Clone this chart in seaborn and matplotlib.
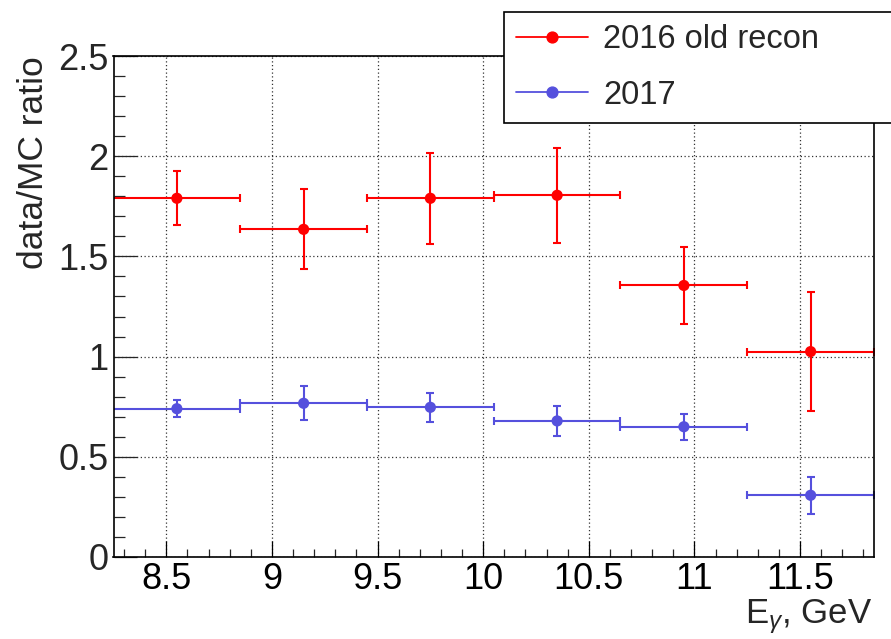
import matplotlib
matplotlib.use("Agg")
import matplotlib.pyplot as plt
import pandas as pd
import seaborn as sns
from matplotlib.lines import Line2D
from matplotlib.ticker import MultipleLocator, FuncFormatter

# Photon energy bins (centres and half widths, GeV)
energy = [8.55, 9.15, 9.75, 10.35, 10.95, 11.55]
half_bin = [0.3, 0.3, 0.3, 0.3, 0.3, 0.3]

# data/MC ratio with statistical errors
ratio_2016 = [1.79, 1.635, 1.79, 1.805, 1.355, 1.025]
err_2016 = [0.135, 0.20, 0.227, 0.237, 0.19, 0.296]
ratio_2017 = [0.74, 0.767, 0.747, 0.679, 0.65, 0.308]
err_2017 = [0.042, 0.085, 0.073, 0.075, 0.065, 0.093]

series_labels = ["2016 old recon", "2017"]
colors = ["#ff0000", "#5550dd"]

sns.set_theme(style="white")
plt.rcParams["font.family"] = ["Liberation Sans", "DejaVu Sans"]
plt.rcParams["mathtext.fontset"] = "custom"
plt.rcParams["mathtext.rm"] = "Liberation Sans"
plt.rcParams["mathtext.it"] = "Liberation Sans:italic"

df = pd.DataFrame({
    "E": energy + energy,
    "ratio": ratio_2016 + ratio_2017,
    "series": [series_labels[0]] * len(energy) + [series_labels[1]] * len(energy),
})

fig = plt.figure(figsize=(8.91, 6.39), dpi=100)
ax = fig.add_axes([113.5 / 891, 1 - 557 / 639, (874 - 113.5) / 891, (557 - 56) / 639])

for ys, es, c in [(ratio_2016, err_2016, colors[0]), (ratio_2017, err_2017, colors[1])]:
    ax.errorbar(energy, ys, xerr=half_bin, yerr=es, fmt="none", ecolor=c,
                elinewidth=1.5, capsize=2.7, capthick=1.5, zorder=2)

sns.scatterplot(data=df, x="E", y="ratio", hue="series", palette=colors,
                s=65, edgecolor="none", linewidth=0, legend=False, zorder=3, ax=ax)

ax.set_xlim(8.25, 11.85)
ax.set_ylim(0, 2.5)
ax.xaxis.set_major_locator(MultipleLocator(0.5))
ax.xaxis.set_minor_locator(MultipleLocator(0.1))
ax.yaxis.set_major_locator(MultipleLocator(0.5))
ax.yaxis.set_minor_locator(MultipleLocator(0.1))
fmt = FuncFormatter(lambda v, p: f"{v:g}")
ax.xaxis.set_major_formatter(fmt)
ax.yaxis.set_major_formatter(fmt)

ax.tick_params(axis="x", which="major", direction="in", length=11.5, width=0.9,
               labelsize=26, pad=3.5, bottom=True, top=False, colors="black")
ax.tick_params(axis="x", which="minor", direction="in", length=5.8, width=0.9,
               bottom=True, top=False)
ax.tick_params(axis="y", which="major", direction="in", length=16.3, width=0.9,
               labelsize=26, pad=3.5, left=True, right=False)
ax.tick_params(axis="y", which="minor", direction="in", length=8.2, width=0.9,
               left=True, right=False)

ax.set_axisbelow(True)
ax.grid(True, which="major", color="#333333", linestyle=(0, (1, 2)), linewidth=0.9)
for sp in ax.spines.values():
    sp.set_visible(True)
    sp.set_color("black")
    sp.set_linewidth(1.2)

ax.set_xlabel(r"E$_{\gamma}$, GeV", fontsize=25, loc="right")
ax.xaxis.label.set_va("baseline")
ax.xaxis.set_label_coords((872 - 113.5) / 760.5, -(623 - 557) / 501)
ax.set_ylabel("data/MC ratio", fontsize=25.5, loc="top")
ax.yaxis.label.set_va("baseline")
ax.yaxis.set_label_coords(-(113.5 - 43) / 760.5, 1.0)

handles = [Line2D([], [], color=c, marker="o", markersize=7.8, linewidth=1.3) for c in colors]
x0, x1 = 504 / 891, 897 / 891
ytop = 1 - 12.3 / 639
leg = fig.legend(handles, series_labels, loc="upper left",
                 bbox_to_anchor=(x0, ytop - 0.2, x1 - x0, 0.2), mode="expand",
                 borderaxespad=0, fontsize=23.5, handlelength=2.2, handletextpad=0.47,
                 labelspacing=0.76, borderpad=0.36, frameon=True, fancybox=False,
                 framealpha=1, edgecolor="black")
leg.get_frame().set_linewidth(1.2)

fig.savefig("out.png", dpi=100)
